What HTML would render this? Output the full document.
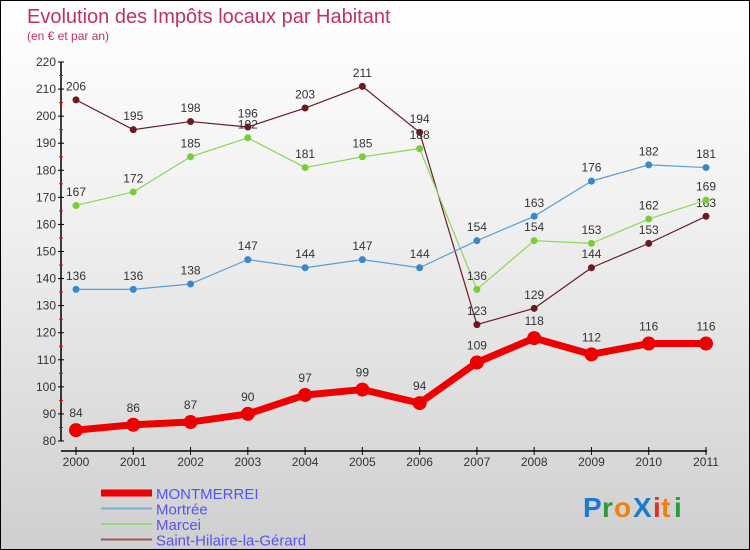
<!DOCTYPE html>
<html><head><meta charset="utf-8"><style>
body{margin:0;}
#wrap{position:relative;width:748px;height:548px;border:1px solid #000;background:linear-gradient(#ffffff 0%,#f0f0f0 40%,#cfcfcf 100%);font-family:"Liberation Sans",sans-serif;overflow:hidden;}
svg{position:absolute;left:0;top:0;}
</style></head><body>
<div id="wrap">
<svg id="chart" width="750" height="550">
<text x="26" y="22" font-size="20" fill="#c0306a">Evolution des Impôts locaux par Habitant</text>
<text x="26" y="39" font-size="12" fill="#c0306a">(en € et par an)</text>
<g id="axes"></g><g id="series"></g><g id="legend"></g>
<g font-size="28" font-weight="bold" font-family="Liberation Sans,sans-serif">
<text x="582" y="516" fill="#1a7bd0">P</text><text x="601" y="516" fill="#2a9a3a">r</text><text x="613" y="516" fill="#f08010">o</text><text x="632" y="516" fill="#1a7bd0">X</text><text x="652" y="516" fill="#e03020">i</text><text x="660" y="516" fill="#f08010">t</text><text x="673" y="516" fill="#2a9a3a">i</text>
</g>
</svg>
</div>
<script>
const years=["2000","2001","2002","2003","2004","2005","2006","2007","2008","2009","2010","2011"];
const yTicks=[80,90,100,110,120,130,140,150,160,170,180,190,200,210,220];
const montmerrei=[84,86,87,90,97,99,94,109,118,112,116,116];
const mortree=[136,136,138,147,144,147,144,154,163,176,182,181];
const marcei=[167,172,185,192,181,185,188,136,154,153,162,169];
const saintHilaire=[206,195,198,196,203,211,194,123,129,144,153,163];
const seriesNames=["MONTMERREI","Mortrée","Marcei","Saint-Hilaire-la-Gérard"];

const NS="http://www.w3.org/2000/svg";
const x=i=>75+i*(630/11);
const y=v=>440-(v-80)*(379/140);
function mk(tag,attrs,parent){const e=document.createElementNS(NS,tag);for(const k in attrs)e.setAttribute(k,attrs[k]);parent.appendChild(e);return e;}
const axes=document.getElementById('axes');
let a=mk('line',{x1:60,y1:y(220),x2:60,y2:y(80),stroke:'#000','stroke-width':1.5},axes);


yTicks.forEach(v=>{
  const l=mk('line',{x1:57,x2:63,y1:y(v),y2:y(v),stroke:'#000'},axes);
  
  
  if(v<220){const m=mk('line',{x1:58,x2:62,y1:y(v+5),y2:y(v+5),stroke:'#e00'},axes);
  
  }
  const t=mk('text',{x:55,y:y(v)+4,'text-anchor':'end','font-size':12,fill:'#333'},axes);
  t.textContent=v;
  
  
});
a=mk('line',{x1:60,y1:450,x2:706,y2:450,stroke:'#000','stroke-width':1.5},axes);


years.forEach((yr,i)=>{
  const l=mk('line',{x1:x(i),x2:x(i),y1:446,y2:454,stroke:'#000'},axes);
  
  
  const t=mk('text',{x:x(i),y:465,'text-anchor':'middle','font-size':12,fill:'#333'},axes);
  t.textContent=yr;
  
  
});
const ser=document.getElementById('series');
const defs=[
 {d:saintHilaire,c:'#6b1a22',w:1.2,r:3.5,n:'saint-hilaire'},
 {d:marcei,c:'#8ad85a',w:1.2,r:3.5,n:'marcei',dot:'#7ccc3a'},
 {d:mortree,c:'#5a9ed6',w:1.2,r:3.5,n:'mortree',dot:'#3a88cc'},
 {d:montmerrei,c:'#ee0000',w:7,r:7,n:'montmerrei'}
];
defs.forEach(s=>{
  const p=mk('polyline',{points:s.d.map((v,i)=>x(i)+','+y(v)).join(' '),fill:'none',stroke:s.c,'stroke-width':s.w,'stroke-linejoin':'round'},ser);
  
  
  s.d.forEach((v,i)=>{
    const c=mk('circle',{cx:x(i),cy:y(v),r:s.r,fill:s.dot||s.c},ser);
    
    
    const t=mk('text',{x:x(i),y:y(v)-(s.r+6),'text-anchor':'middle','font-size':12,fill:'#333'},ser);
    t.textContent=v;
    
    
  });
});
const leg=document.getElementById('legend');
const lc=['#ee0000','#7ab0d8','#98d878','#9a5a5a'],lw=[7,2,2,2];
seriesNames.forEach((n,i)=>{
  const yy=492+i*15.5;
  const l=mk('line',{x1:100,x2:151,y1:yy,y2:yy,stroke:lc[i],'stroke-width':lw[i]},leg);
  
  
  const t=mk('text',{x:155,y:yy+6,'font-size':15,fill:'#5555ee'},leg);
  t.textContent=n;
  
  
});
</script>
</body></html>
